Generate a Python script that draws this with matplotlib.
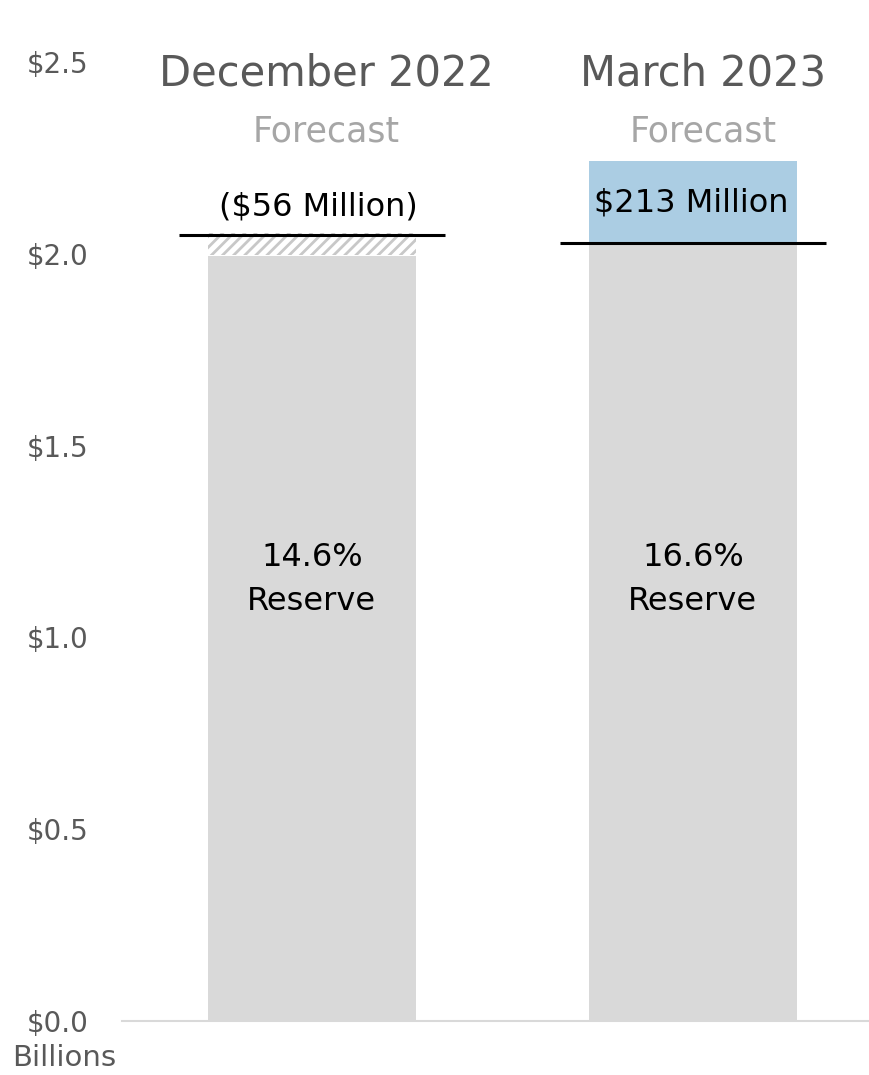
import numpy as np
import matplotlib
matplotlib.use('Agg')
import matplotlib.pyplot as plt

plt.rcParams['font.family'] = ['DejaVu Sans']
plt.rcParams['hatch.linewidth'] = 2.0

# values in billions
periods = ['December 2022', 'March 2023']
subtitles = ['Forecast', 'Forecast']
reserve_target = [2.050, 2.028]
reserve_balance = [1.994, 2.241]
diff_labels = ['($56 Million)', '$213 Million']
reserve_pct = ['14.6%', '16.6%']
yticks = [0.0, 0.5, 1.0, 1.5, 2.0, 2.5]

x = np.arange(len(periods))
target = np.array(reserve_target)
balance = np.array(reserve_balance)
base = np.minimum(target, balance)
short = np.clip(target - balance, 0, None)
over = np.clip(balance - target, 0, None)

fig = plt.figure(figsize=(8.7, 10.75), dpi=100)
ax = fig.add_axes([0.140, 0.0502, 0.860, 0.8921])

w = 0.546
ax.bar(x, base, width=w, color='#d9d9d9', zorder=2)
ax.bar(x, short, bottom=base + 0.003, width=w, color='white',
       edgecolor='#c8c8c8', hatch='///', linewidth=0, zorder=2)
ax.bar(x, over, bottom=base, width=w, color='#abcde3', zorder=2)
for xi, t in zip(x, target):
    ax.plot([xi - 0.35, xi + 0.35], [t, t], color='black', lw=2.2, zorder=3,
            solid_capstyle='butt')

title_dx = [0.037, 0.026]
for xi, p, s, dx in zip(x, periods, subtitles, title_dx):
    ax.text(xi + dx, 2.47, p, ha='center', va='center', fontsize=30,
            color='#595959', clip_on=False)
    ax.text(xi + dx, 2.318, s, ha='center', va='center', fontsize=25,
            color='#a6a6a6', clip_on=False)

label_dx = [0.016, -0.003]
label_y = [2.122, 2.132]
for xi, lab, dx, ly in zip(x, diff_labels, label_dx, label_y):
    ax.text(xi + dx, ly, lab, ha='center', va='center', fontsize=23,
            color='black', zorder=4)

for xi, pct in zip(x, reserve_pct):
    ax.text(xi, 1.15, pct + '\nReserve', ha='center', va='center',
            fontsize=23, color='black', linespacing=1.55, zorder=4)

ax.set_xlim(-0.499, 1.465)
ax.set_ylim(0, 2.5)
ax.set_yticks(yticks)
ax.set_yticklabels(['$%.1f' % v for v in yticks], fontsize=20, color='#595959')
ax.tick_params(axis='y', length=0, pad=24)
ax.set_xticks([])
for side in ['left', 'right', 'top']:
    ax.spines[side].set_visible(False)
ax.spines['bottom'].set_color('#d9d9d9')
ax.spines['bottom'].set_linewidth(1.5)

fig.text(64 / 870, 1 - 1058 / 1075, 'Billions', ha='center', va='center',
         fontsize=21, color='#595959')

fig.savefig('out.png', dpi=100)
